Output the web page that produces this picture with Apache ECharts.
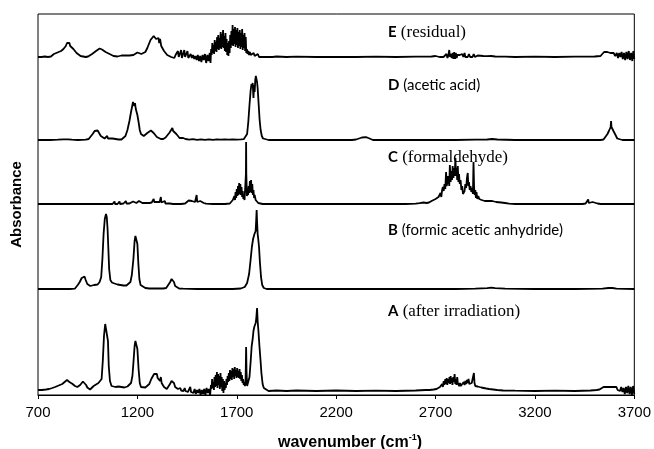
<!DOCTYPE html>
<html>
<head>
<meta charset="utf-8">
<script src="https://cdn.jsdelivr.net/npm/echarts/dist/echarts.min.js"></script>
<style>html,body{margin:0;padding:0;background:#fff;}#c{width:654px;height:449px;}</style>
</head>
<body>
<div id="c"></div>
<script>
// x-axis ticks (wavenumber, cm-1)
const xTicks = [700, 1200, 1700, 2200, 2700, 3200, 3700];

// Spectra as [wavenumber, relative absorbance] pairs
const specA = [[700,1],[710,0],[720,1],[730,0.5],[740,1.5],[748,0],[756,2],[764,1],[772,3],[780,2],[786,4],[792,3],[798,5],[804,4],[810,6],[816,5],[822,7],[828,6],[834,9],[840,8],[846,11],[850,10],[854,12],[858,9],[862,10],[868,8],[874,7],[880,6],[886,5],[892,4.5],[898,4],[905,5],[912,6],[920,8],[926,9.5],[931,10.5],[936,9],[942,6],[948,3.5],[955,2],[962,1.5],[970,3],[980,5],[992,6.5],[1004,8],[1014,10],[1020,12],[1026,30],[1032,55],[1038,67],[1043,69],[1047,66],[1052,50],[1056,25],[1062,10],[1070,5],[1080,3.5],[1090,4],[1105,4.5],[1120,4],[1135,3.5],[1150,4.5],[1160,6],[1168,8],[1175,15],[1180,28],[1186,45],[1190,50],[1193,49],[1196,51],[1200,42],[1206,22],[1212,8],[1218,4],[1228,3],[1240,3.5],[1250,5],[1260,7],[1270,12],[1278,14],[1284,17],[1290,18],[1294,15],[1298,17],[1302,13],[1306,15],[1310,12],[1314,10],[1318,14],[1322,8],[1328,6],[1334,4],[1340,3],[1348,2],[1356,4],[1364,7],[1372,10],[1378,11],[1384,8],[1390,4],[1396,2.5],[1404,2],[1410,1],[1416,3],[1420,0.5],[1426,2],[1432,0],[1438,3],[1442,0],[1448,2],[1454,-1],[1460,1],[1466,4],[1470,-1],[1476,1],[1482,-2],[1488,2],[1494,-3],[1500,1],[1506,-2],[1512,2],[1518,-4],[1524,1],[1530,-3],[1536,2],[1542,-4],[1548,3],[1554,-2],[1560,2],[1566,-4],
[1570,6],[1573,2],[1576,12],[1579,3],[1582,9],[1585,1],[1588,14],[1591,4],[1594,16],[1597,5],[1600,19],[1603,3],[1606,17],[1609,6],[1612,15],[1615,2],[1618,18],[1621,4],[1624,14],[1627,0],[1630,12],[1633,-2],[1636,10],[1639,1],[1642,8],[1645,3],[1648,12],[1651,6],[1654,15],[1657,9],[1660,18],[1663,10],[1666,21],[1669,12],[1672,20],[1675,11],[1678,23],[1681,14],[1684,22],[1687,12],[1690,24],[1693,15],[1696,21],[1699,13],[1702,23],[1705,14],[1708,20],[1711,13],[1714,22],[1717,12],[1720,19],[1723,10],[1726,16],[1729,8],[1732,12],[1735,6],[1738,9],[1741,5],[1744,8],[1746,30],[1747,44],[1749,20],
[1752,5],[1758,6],[1764,14],[1770,30],[1775,45],[1780,52],[1784,60],[1788,64],[1792,62],[1795,68],[1798,72],[1802,83],[1805,70],[1809,60],[1814,45],[1819,32],[1824,18],[1830,7],[1836,3],[1845,1],[1860,0],
[1900,0.5],[1950,0],[2000,0.5],[2100,0],[2200,0.5],[2300,0],[2400,0.3],[2500,0],[2600,0.5],[2650,1],
[2670,1],[2690,1.5],[2705,2],[2715,2.5],[2722,4],[2728,3],[2733,7],[2737,4],[2741,10],[2745,6],[2749,12],[2752,7],[2756,13],[2759,6],[2763,12],[2766,8],[2770,14],[2773,7],[2776,15],[2779,8],[2782,13],[2785,6],[2789,14],[2792,9],[2796,17],[2799,7],[2802,12],[2805,6],[2809,14],[2812,8],[2815,10],[2819,5],[2823,8],[2827,5],[2832,7],[2837,6],[2842,9],[2846,6],[2850,10],[2854,7],[2858,11],[2862,8],[2866,12],[2870,7],[2874,9],[2878,5],[2882,8],[2886,6],[2890,10],[2893,18],[2896,8],[2900,5],[2906,6],[2912,4.5],[2920,4],[2930,3.5],[2940,3],[2955,2.5],[2970,2],[2990,1.5],[3010,1],[3040,0.5],[3100,0.3],[3200,0],[3300,0.3],[3400,0],[3480,0.5],[3510,1],
[3525,1.5],[3535,3],[3545,4],[3555,4.5],[3565,4],[3575,5],[3585,4],[3592,3],[3598,4],[3604,2],[3610,4],[3616,1],[3622,3],[3628,0],[3634,4],[3640,-1],[3646,3],[3652,-3],[3658,4],[3664,-2],[3670,5],[3676,-3],[3682,4],[3688,-4],[3694,5],[3700,-3]];

const specB = [[700,0],[800,0],[860,0],[885,0.3],[900,4],[910,7],[920,11],[928,13],[934,12.5],[940,9],[948,5],[955,3.5],[963,3],[972,3.5],[982,4],[990,3.5],[1000,4.5],[1010,7],[1018,12],[1024,30],[1030,55],[1036,70],[1042,75],[1046,72],[1050,60],[1054,40],[1058,20],[1064,9],[1072,6.5],[1085,5.5],[1100,4.5],[1115,4],[1130,3.5],[1145,3.5],[1155,4],[1165,7],[1172,14],[1180,30],[1186,48],[1190,53],[1193,51],[1196,53],[1200,45],[1205,25],[1210,10],[1216,4],[1225,2],[1240,1],[1260,0.5],[1290,0.5],[1330,0.5],[1345,1],[1355,2.5],[1365,7],[1372,10],[1378,10.5],[1384,7],[1390,3],[1398,1],[1410,0.5],[1430,0.3],[1500,0],[1600,0],[1680,0],[1720,0.5],[1740,2],[1752,6],[1762,15],[1770,30],[1776,42],[1782,50],[1786,51],[1789,55],[1792,53],[1795,58],[1798,70],[1800,79],[1802,68],[1805,55],[1808,50],[1812,42],[1816,28],[1822,12],[1828,4],[1836,1],[1850,0],[1950,0],[2000,0],[2200,0],[2500,0],[2800,0],[2900,0.3],[2960,0.8],[2980,1.3],[3000,0.8],[3050,0.3],[3200,0],[3400,0],[3540,0.3],[3570,1],[3590,1],[3610,0.3],[3700,0]];

const specC = [[700,0],[800,0],[900,0],[1000,0],[1020,0],[1028,2],[1031,0],[1050,0],[1058,2],[1061,0],[1075,0],[1085,2.5],[1088,0],[1100,0],[1110,2.5],[1113,0],[1130,0.5],[1142,3],[1145,0.5],[1160,0.5],[1178,2.5],[1181,0.5],[1195,1],[1208,3],[1211,1],[1225,1],[1235,3],[1238,1],[1250,1],[1258,3],[1261,1],[1272,1.5],[1282,5],[1285,2],[1290,3],[1296,2],[1300,4],[1304,1.5],[1312,2],[1318,7],[1321,1.5],[1330,1],[1338,3],[1341,0.5],[1352,0.5],[1360,2.5],[1363,0.5],[1380,0],[1420,0],[1440,0.5],[1450,2],[1458,3.5],[1466,4],[1474,3],[1482,2],[1490,2],[1495,2],[1498,9],[1501,2],[1508,2.5],[1516,3],[1524,2],[1534,1],[1545,0.3],[1580,0],[1640,0],[1665,0.5],[1675,2],
[1680,4],[1684,3],[1688,8],[1691,4],[1694,12],[1697,6],[1700,15],[1703,8],[1706,18],[1709,9],[1712,21],[1715,10],[1718,20],[1721,9],[1724,17],[1727,7],[1730,13],[1733,5],[1736,8],[1739,4],[1743,6],[1746,30],[1747,62],[1748,30],[1751,8],[1754,12],[1757,9],[1760,18],[1763,11],[1766,23],[1769,12],[1772,24],[1775,11],[1778,20],[1781,9],[1784,14],[1787,6],[1790,9],[1795,4],[1800,2.5],[1808,1],[1815,0.3],[1830,0],[1900,0],[2000,0],[2200,0],[2400,0],[2550,0],[2600,0.3],[2620,0.8],
[2640,1.5],[2650,2.5],[2655,1],[2662,3],[2667,1.5],[2672,3.5],[2680,3],[2690,4],[2700,5],[2708,5.5],[2715,7],[2720,8],[2725,11],[2729,7],[2733,14],[2737,17],[2741,13],[2745,20],[2749,15],[2753,32],[2756,18],[2760,22],[2763,28],[2766,24],[2769,18],[2772,39],[2776,22],[2780,33],[2783,24],[2786,38],[2790,26],[2793,36],[2796,28],[2800,46],[2803,28],[2806,36],[2809,24],[2812,38],[2815,22],[2818,30],[2822,20],[2826,24],[2830,14],[2834,18],[2838,10],[2842,9],[2846,13],[2850,20],[2854,16],[2858,26],[2862,31],[2865,18],[2868,22],[2872,14],[2876,18],[2880,12],[2884,16],[2888,10],[2891,42],[2894,16],[2897,9],[2900,14],[2903,6],[2906,12],[2910,5],[2915,8],[2920,5],[2926,6],[2932,4],[2940,4.5],[2948,3],[2956,3.5],[2965,3],[2975,2.5],[2985,3],[2995,2],[3005,2],[3015,1.5],[3030,1.5],[3050,1],[3070,0.3],[3100,0],[3200,0],[3300,0],[3400,0],[3440,0],[3455,0.5],[3465,1],[3468,4.5],[3471,1],[3480,1.5],[3490,2],[3500,1.5],[3515,0.5],[3530,0],[3600,0],[3700,0]];

const specD = [[700,0],[760,0],[800,0.3],[830,0.7],[850,0.7],[870,0.3],[900,0],[940,0.3],[955,1],[965,3],[975,6],[985,9],[993,10],[1000,9.5],[1008,7.5],[1016,4],[1025,2],[1035,1.5],[1045,1.5],[1048,4],[1052,1.5],[1060,2],[1075,1.5],[1090,1],[1105,0.5],[1120,0.5],[1130,1.5],[1140,4],[1150,10],[1160,19],[1168,28],[1174,34],[1178,38],[1182,40],[1185,34],[1188,37],[1192,31],[1196,30],[1200,25],[1206,18],[1212,10],[1218,6],[1224,4],[1232,4],[1240,5],[1250,7],[1260,9],[1268,9.5],[1275,9],[1282,7],[1290,5],[1298,3],[1306,1.5],[1318,1],[1330,1],[1342,2.5],[1352,5],[1362,7.5],[1370,9],[1376,12],[1380,9],[1385,10],[1390,8],[1396,6],[1404,4],[1412,2],[1420,1.5],[1430,2],[1437,3],[1442,1],[1450,1],[1460,0.3],[1480,0.8],[1500,0.2],[1520,0.6],[1540,0.2],[1560,0.6],[1580,0.2],[1600,0.6],[1620,0.3],[1640,0.6],[1660,0.3],[1680,0.6],[1700,0.4],[1720,0.6],[1735,0.8],[1745,2],[1752,6],[1758,18],[1764,35],[1770,50],[1774,56],[1777,53],[1780,57],[1784,42],[1787,55],[1790,48],[1793,60],[1796,64],[1799,65],[1802,58],[1805,52],[1810,36],[1815,20],[1820,10],[1826,4],[1832,1.5],[1840,0.5],[1860,0],[1900,0],[2000,0],[2100,0],[2200,0],[2280,0],[2300,0.5],[2315,1.5],[2330,2.5],[2340,3.3],[2350,2.8],[2362,2],[2372,1],[2385,0],[2450,0],[2550,0],[2700,0],[2800,0],[2900,0.3],[2960,0.5],[2985,1],[3010,0.5],[3100,0],[3300,0],[3480,0],[3530,0],[3545,0.5],[3555,2],[3565,6],[3572,9],[3578,11],[3581,13],[3583,19],[3585,13],[3588,11],[3595,9],[3602,8],[3608,4],[3614,1.5],[3622,0.3],[3640,0],[3700,0]];

const specE = [[700,0],[710,1],[718,0],[726,1.5],[734,0.5],[742,1],[750,0],[758,2],[765,0.5],[772,2],[780,3],[786,2],[792,4],[798,3],[804,5],[810,4],[816,6],[822,5],[828,8],[834,7],[840,11],[846,14],[850,16],[854,13],[858,14],[862,11],[866,12],[872,9],[878,8],[886,6],[894,4],[904,2],[914,1],[924,0],[940,0],[952,0.5],[962,1.5],[972,3],[982,4.5],[992,6],[1002,7],[1010,8.5],[1016,8],[1022,7.5],[1030,6],[1040,5],[1050,4],[1060,3],[1070,2],[1080,1],[1090,0],[1100,0.5],[1110,1],[1120,1.5],[1130,1],[1140,1.5],[1150,1],[1160,1.5],[1170,2],[1180,2],[1190,3.5],[1200,4.5],[1210,4],[1220,3],[1230,3],[1240,5],[1250,9],[1258,13],[1266,17],[1274,19],[1282,21],[1288,20],[1294,18],[1300,17],[1306,19],[1310,14],[1314,18],[1320,11],[1326,9],[1334,6],[1342,4],[1350,2],[1360,1],[1370,0],
[1380,1],[1386,-1],[1392,2],[1398,0],[1404,6],[1408,0],[1414,1],[1420,7],[1424,-1],[1430,1],[1436,7],[1440,0],[1446,2],[1452,6],[1456,-1],[1462,1],[1468,3],[1474,-1],[1480,2],[1486,-2],[1492,1],[1498,-3],[1504,2],[1510,-4],[1516,1],[1522,-5],[1528,2],[1534,-3],[1540,3],[1546,-6],[1552,2],[1558,-4],[1564,4],[1568,-6],
[1571,8],[1574,2],[1577,14],[1580,4],[1583,12],[1586,3],[1589,17],[1592,6],[1595,15],[1598,5],[1601,20],[1604,8],[1607,22],[1610,7],[1613,19],[1616,9],[1619,25],[1622,8],[1625,23],[1628,10],[1631,27],[1634,9],[1637,21],[1640,6],[1643,24],[1646,5],[1649,18],[1652,2],[1655,14],[1658,1],[1661,16],[1664,4],[1667,22],[1670,9],[1673,26],[1676,12],[1679,32],[1682,11],[1685,28],[1688,13],[1691,30],[1694,10],[1697,27],[1700,12],[1703,29],[1706,9],[1709,25],[1712,11],[1715,27],[1718,8],[1721,24],[1724,10],[1727,28],[1730,7],[1733,22],[1736,9],[1739,24],[1742,6],[1745,20],[1748,4],[1751,8],[1754,3],[1758,6],[1762,2],[1766,5],[1770,2],[1775,4],[1780,1],[1785,4],[1790,1],[1795,3],[1800,1],[1806,3],[1812,0],[1818,2],[1824,0],[1830,2],[1838,0],[1846,1.5],[1855,0],[1865,1],[1880,0],[1900,0.5],[1950,0],[2000,0.3],[2100,0],[2200,0.2],[2300,0],[2400,0.3],[2500,0],[2600,0.3],[2680,0.5],[2700,1],
[2720,0],[2730,1],[2740,0],[2745,2],[2750,0],[2755,3],[2760,-1],[2765,2],[2769,7],[2773,0],[2778,3],[2782,-1],[2786,4],[2790,-2],[2794,5],[2798,-2],[2802,4],[2806,-1],[2810,2],[2816,0],[2822,2],[2828,1],[2834,3],[2840,0],[2846,4],[2850,0],[2856,2],[2862,0],[2868,3],[2874,0],[2880,2],[2886,0],[2892,3],[2898,0],[2904,1],[2912,1.5],[2920,0.5],[2940,1],[2960,0.8],[2980,1],[3000,0.5],[3050,0.3],[3100,0],[3200,0.3],[3300,0],[3400,0.3],[3500,0.5],
[3530,1],[3540,3],[3548,5],[3556,4],[3564,5],[3572,3],[3580,4],[3588,2],[3596,4],[3604,1],[3612,4],[3618,-1],[3624,4],[3630,0],[3636,5],[3642,-2],[3648,4],[3654,-3],[3660,5],[3666,-2],[3672,6],[3678,-3],[3684,4],[3690,-4],[3695,6],[3700,-2]];

const seriesNames = ['A', 'B', 'C', 'D', 'E'];
const seriesDescr = ['(after irradiation)', '(formic acetic anhydride)', '(formaldehyde)', '(acetic acid)', '(residual)'];
const spectra = [specA, specB, specC, specD, specE];

// vertical stacking offsets of each trace (layout)
const offsets = [4, 106, 191, 255, 338];
const Y_MAX = 381;

const chart = echarts.init(document.getElementById('c'), null, {renderer: 'canvas'});

const series = spectra.map((s, i) => ({
  name: seriesNames[i],
  type: 'line',
  data: s.map(p => [p[0], p[1] + offsets[i]]),
  showSymbol: false,
  symbol: 'none',
  clip: false,
  silent: true,
  lineStyle: {color: '#000', width: 1.8},
  z: 3
}));

const labelY = [311, 231, 157, 86, 32];
const serifLabels = [true, false, true, false, true];
const graphics = seriesNames.map((n, i) => ({
  type: 'text',
  left: 388,
  top: labelY[i] - 8,
  style: {
    text: '{b|' + n + '}{' + (serifLabels[i] ? 's' : 'l') + '| ' + seriesDescr[i] + '}',
    rich: {
      b: {fontFamily: 'Lato', fontWeight: 'bold', fontSize: 15, fill: '#000', lineHeight: 20},
      s: {fontFamily: 'Liberation Serif', fontSize: 17, fill: '#000', lineHeight: 20},
      l: {fontFamily: 'Lato', fontSize: 15, fill: '#000', lineHeight: 20}
    }
  }
}));

graphics.push({
  type: 'text',
  left: 278,
  top: 433,
  style: {
    text: '{t|wavenumber (cm}{u|-1}{t|)}',
    rich: {
      t: {fontFamily: 'Liberation Sans', fontWeight: 'bold', fontSize: 16, fill: '#000', lineHeight: 20},
      u: {fontFamily: 'Liberation Sans', fontWeight: 'bold', fontSize: 9, fill: '#000', verticalAlign: 'top', lineHeight: 20}
    }
  }
});

const option = {
  animation: false,
  backgroundColor: '#fff',
  grid: {left: 38, right: 19, top: 14, bottom: 54, show: true, borderColor: '#000', borderWidth: 1, backgroundColor: 'transparent'},
  xAxis: {
    type: 'value',
    min: xTicks[0],
    max: xTicks[xTicks.length - 1],
    interval: 500,
    axisLine: {show: true, lineStyle: {color: '#000', width: 1}},
    axisTick: {show: true, inside: false, length: 4, lineStyle: {color: '#000'}},
    axisLabel: {color: '#000', fontSize: 15, fontFamily: 'Liberation Sans', margin: 10, formatter: v => String(v)},
    splitLine: {show: false}
  },
  yAxis: {
    type: 'value',
    min: 0,
    max: Y_MAX,
    show: true,
    name: 'Absorbance',
    nameLocation: 'middle',
    nameGap: 14,
    nameTextStyle: {fontFamily: 'Liberation Sans', fontWeight: 'bold', fontSize: 15, color: '#000'},
    axisLine: {show: false},
    axisTick: {show: false},
    axisLabel: {show: false},
    splitLine: {show: false}
  },
  series: series,
  graphic: graphics
};
chart.setOption(option);
</script>
</body>
</html>
